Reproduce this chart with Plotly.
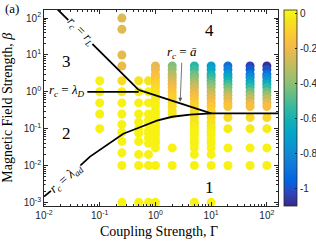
import plotly.graph_objects as go

# ---------------- data ----------------
gamma_columns = [0.1, 0.25, 0.5, 0.75, 1, 2, 5, 10, 20, 50, 100]

beta_g0p1 = [2, 1, 0.5, 0.25, 0.1]
val_g0p1 = [0, 0, 0, 0, 0]

beta_g0p25 = [100, 50, 10, 5, 2, 1, 0.5, 0.25, 0.13, 0.08, 0.045, 0.022, 0.01, 0.001]
val_g0p25 = [-0.24, -0.23, -0.22, -0.2, -0.06, -0.01, 0, 0, 0, 0, 0, 0, 0, 0]

beta_g0p5 = [2, 1, 0.5, 0.25, 0.15, 0.1, 0.075, 0.045, 0.02, 0.01, 0.001]
val_g0p5 = [-0.04, 0, 0, 0, 0, 0, 0, 0, 0, 0, 0]

beta_g0p75 = [2, 1, 0.5, 0.25, 0.17, 0.13, 0.09, 0.075, 0.055, 0.04, 0.02, 0.01, 0.001]
val_g0p75 = [-0.04, 0, 0, 0, 0, 0, 0, 0, 0, 0, 0, 0, 0]

beta_g1 = [5, 4, 3, 2.5, 2, 1.6, 1.3, 1, 0.8, 0.65, 0.5, 0.4, 0.3, 0.25, 0.2, 0.15,
           0.12, 0.1, 0.08, 0.065, 0.05, 0.04, 0.03, 0.01, 0.001]
val_g1 = [-0.22, -0.2, -0.17, -0.15, -0.12, -0.09, -0.07, -0.05, -0.03, -0.02, -0.01,
          0, 0, 0, 0, 0, 0, 0, 0, 0, 0, 0, 0, 0, 0]

beta_g2 = [5, 4, 3, 2.5, 2, 1.6, 1.3, 1, 0.8, 0.65, 0.5, 0.4, 0.3, 0.25, 0.03, 0.01]
val_g2 = [-0.42, -0.38, -0.33, -0.3, -0.26, -0.22, -0.18, -0.15, -0.12, -0.1, -0.08,
          -0.06, -0.04, -0.03, 0, 0]

beta_g5 = [5, 4, 3, 2.5, 2, 1.6, 1.3, 1, 0.8, 0.65, 0.5, 0.4, 0.3, 0.25, 0.2, 0.15,
           0.12, 0.1, 0.08, 0.065, 0.05, 0.04, 0.03, 0.02, 0.01, 0.001]
val_g5 = [-0.57, -0.52, -0.46, -0.42, -0.37, -0.32, -0.27, -0.22, -0.18, -0.15, -0.12,
          -0.09, -0.07, -0.05, -0.04, -0.03, -0.02, -0.01, 0, 0, 0, 0, 0, 0, 0, 0]

beta_g10 = [5, 4, 3, 2.5, 2, 1.6, 1.3, 1, 0.8, 0.65, 0.5, 0.4, 0.3, 0.25, 0.2, 0.15,
            0.12, 0.1, 0.08, 0.065, 0.05, 0.04, 0.03, 0.02, 0.01, 0.001]
val_g10 = [-0.73, -0.67, -0.6, -0.55, -0.49, -0.43, -0.37, -0.31, -0.26, -0.21, -0.17,
           -0.13, -0.1, -0.08, -0.06, -0.04, -0.03, -0.02, -0.01, 0, 0, 0, 0, 0, 0, 0]

beta_g20 = [5, 4, 3, 2.5, 2, 1.6, 1.3, 1, 0.8, 0.65, 0.5, 0.4, 0.2, 0.1, 0.03, 0.01]
val_g20 = [-0.9, -0.83, -0.74, -0.67, -0.6, -0.52, -0.44, -0.37, -0.3, -0.24, -0.18,
           -0.14, -0.06, -0.02, 0, 0]

beta_g50 = [5, 4, 3, 2.5, 2, 1.6, 1.3, 1, 0.8, 0.65, 0.5, 0.4, 0.2, 0.1, 0.03, 0.01]
val_g50 = [-1.04, -0.97, -0.87, -0.8, -0.71, -0.62, -0.53, -0.44, -0.36, -0.29, -0.22,
           -0.16, -0.07, -0.02, 0, 0]

beta_g100 = [5, 4, 3, 2.5, 2, 1.6, 1.3, 1, 0.8, 0.65, 0.5, 0.4, 0.2, 0.1, 0.03, 0.01]
val_g100 = [-1.08, -1.0, -0.9, -0.82, -0.73, -0.63, -0.54, -0.45, -0.37, -0.3, -0.23,
            -0.17, -0.08, -0.02, 0, 0]

# boundary curves (Γ, β)
rL_gamma = [0.015, 0.5]
rL_beta = [217, 1.13]
lamD_gamma = [0.06, 0.5]
lamD_beta = [1, 1]
abar_gamma = [0.5, 10]
abar_beta = [1.13, 0.26]
lamad_gamma = [0.01, 0.026, 0.067, 0.135, 0.265, 0.53, 1.06, 2.0, 4.2, 10, 160]
lamad_beta = [0.00143, 0.0047, 0.0174, 0.0366, 0.0728, 0.109, 0.164, 0.21, 0.241, 0.26, 0.26]

x_tick_vals = [0.01, 0.1, 1, 10, 100]
x_tick_text = ["10<sup>-2</sup>", "10<sup>-1</sup>", "10<sup>0</sup>", "10<sup>1</sup>", "10<sup>2</sup>"]
y_tick_vals = [0.001, 0.01, 0.1, 1, 10, 100]
y_tick_text = ["10<sup>-3</sup>", "10<sup>-2</sup>", "10<sup>-1</sup>", "10<sup>0</sup>",
               "10<sup>1</sup>", "10<sup>2</sup>"]
cbar_vals = [0, -0.2, -0.4, -0.6, -0.8, -1]
cbar_text = ["0", "-0.2", "-0.4", "-0.6", "-0.8", "-1"]

# ---------------- build ----------------
column_betas = [beta_g0p1, beta_g0p25, beta_g0p5, beta_g0p75, beta_g1, beta_g2,
                beta_g5, beta_g10, beta_g20, beta_g50, beta_g100]
column_vals = [val_g0p1, val_g0p25, val_g0p5, val_g0p75, val_g1, val_g2,
               val_g5, val_g10, val_g20, val_g50, val_g100]

xs, ys, cs = [], [], []
for g, bs, vs in zip(gamma_columns, column_betas, column_vals):
    for b, v in zip(bs, vs):
        xs.append(g)
        ys.append(b)
        cs.append(v)

parula = [
    [0.000, "rgb(53,42,135)"], [0.063, "rgb(50,67,186)"], [0.127, "rgb(3,99,225)"],
    [0.190, "rgb(13,117,220)"], [0.254, "rgb(20,133,212)"], [0.317, "rgb(9,152,209)"],
    [0.381, "rgb(6,167,198)"], [0.444, "rgb(21,177,180)"], [0.508, "rgb(56,185,158)"],
    [0.571, "rgb(101,190,134)"], [0.635, "rgb(146,191,115)"], [0.698, "rgb(183,189,100)"],
    [0.762, "rgb(217,186,86)"], [0.825, "rgb(248,187,68)"], [0.889, "rgb(252,206,46)"],
    [0.952, "rgb(245,228,29)"], [1.000, "rgb(249,251,14)"],
]

AX = "#262626"
SERIF = "Liberation Serif"
SANS = "Liberation Sans"

fig = go.Figure()
fig.add_trace(go.Scatter(
    x=xs, y=ys, mode="markers", hoverinfo="skip", showlegend=False,
    marker=dict(size=9, color=cs, colorscale=parula, cmin=-1.1, cmax=0.02,
                line=dict(width=0), showscale=True,
                colorbar=dict(thickness=13, thicknessmode="pixels", len=1, lenmode="fraction",
                              x=1.024, xanchor="left", xpad=0, y=0.5, yanchor="middle", ypad=0,
                              outlinewidth=0.8, outlinecolor=AX,
                              tickmode="array", tickvals=cbar_vals, ticktext=cbar_text,
                              ticks="inside", ticklen=2, tickcolor=AX,
                              tickfont=dict(family=SANS, size=10, color=AX))),
))

for gx, by in [(rL_gamma, rL_beta), (lamD_gamma, lamD_beta), (abar_gamma, abar_beta),
               (lamad_gamma, lamad_beta)]:
    fig.add_trace(go.Scatter(x=gx, y=by, mode="lines", hoverinfo="skip", showlegend=False,
                             line=dict(color="black", width=1.8)))

axis_common = dict(type="log", showline=True, linecolor=AX, linewidth=0.8, mirror="ticks",
                   ticks="inside", ticklen=4, tickwidth=0.8, tickcolor=AX,
                   showgrid=False, zeroline=False, tickmode="array",
                   tickfont=dict(family=SANS, size=10, color=AX),
                   minor=dict(ticks="inside", ticklen=2, tickwidth=0.6, tickcolor=AX,
                              dtick="D1", showgrid=False))

fig.update_xaxes(range=[-2, 2.2], tickvals=x_tick_vals, ticktext=x_tick_text, **axis_common)
fig.update_yaxes(range=[-3.1, 2.22], tickvals=y_tick_vals, ticktext=y_tick_text, **axis_common)

ann = []
def label(text, x, y, size=13, angle=0, bg=None, **kw):
    d = dict(text=text, x=x, y=y, xref="paper", yref="paper", showarrow=False,
             font=dict(family=SERIF, size=size, color="black"), textangle=angle,
             xanchor="center", yanchor="middle")
    if bg:
        d["bgcolor"] = bg
        d["borderpad"] = 0
    d.update(kw)
    ann.append(d)

label("Coupling Strength, Γ", 0.492, -0.132, size=14)
label("Magnetic Field Strength, <i>β</i>", -0.154, 0.501, size=14, angle=-90)
label("(a)", -0.135, 1.010, size=13)
label("1", 0.707, 0.093, size=17)
label("2", 0.097, 0.369, size=17)
label("3", 0.097, 0.737, size=17)
label("4", 0.708, 0.893, size=17)
label("<i>r</i><sub><i>c</i></sub> = <i>λ</i><sub><i>D</i></sub>", 0.098, 0.588, size=13)
label("<i>r</i><sub><i>c</i></sub> = <i>r</i><sub><i>L</i></sub>", 0.158, 0.888, size=13,
      angle=45, bg="white")
label("<i>r</i><sub><i>c</i></sub> = <i>λ</i><sub><i>ad</i></sub>", 0.094, 0.14, size=13,
      angle=-41, bg="white")
ann.append(dict(text="<i>r</i><sub><i>c</i></sub> = <i>ā</i>", x=0.582, y=0.532,
                xref="paper", yref="paper", showarrow=True, ax=2, ay=-49,
                arrowcolor="#555555", arrowwidth=0.8, arrowhead=2, arrowsize=1, standoff=0,
                font=dict(family=SERIF, size=13, color="black")))

fig.update_layout(width=316, height=243, autosize=False,
                  margin=dict(l=44, r=38.3, t=10, b=36.5, autoexpand=False),
                  plot_bgcolor="white", paper_bgcolor="white",
                  annotations=ann)

# the page body has a default 8px margin; remove it so the figure sits at the window origin
fig.write_html("out.html", config={"displayModeBar": False},
               post_script="document.body.style.margin='0px';")
